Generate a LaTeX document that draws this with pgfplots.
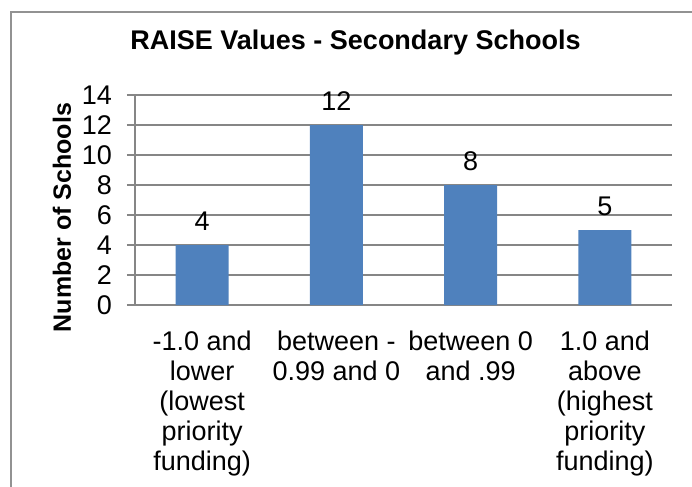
\documentclass[border=0pt]{standalone}
\usepackage{fontspec}
\setmainfont{Liberation Sans}
\usepackage{pgfplots}
\pgfplotsset{compat=1.18}
\definecolor{barblue}{HTML}{4F81BD}
\definecolor{gridgray}{HTML}{868686}
\newcommand{\bodyfont}{\fontsize{27bp}{30bp}\selectfont}
\begin{document}
\begin{tikzpicture}
\begin{axis}[
  name=ax, at={(0bp,0bp)}, anchor=south west,
  width=537bp, height=210bp, scale only axis,
  xmin=-0.5, xmax=3.5, ymin=0, ymax=14,
  ytick={0,2,...,14},
  xtick={0,1,2,3},
  xticklabels={{-1.0 and\\lower\\(lowest\\priority\\funding)},{between -\\0.99 and 0},{between 0\\and .99},{1.0 and\\above\\(highest\\priority\\funding)}},
  axis x line*=bottom, axis y line*=left,
  axis line style={gridgray, line width=1.2bp, -},
  tick align=outside, major tick length=8bp,
  ytick style={draw=gridgray, line width=1.2bp},
  xtick style={draw=none},
  ymajorgrids, grid style={gridgray, line width=1.2bp},
  /pgf/number format/assume math mode=true,
  yticklabel style={font=\bodyfont, inner sep=0pt, anchor=east, xshift=-15bp},
  xticklabel style={font=\bodyfont, align=center, anchor=north, inner sep=0pt, yshift=-17.5bp},
  title={RAISE Values - Secondary Schools},
  title style={font=\bfseries\fontsize{27bp}{30bp}\selectfont, at={(axis description cs:0.4106,1)}, anchor=base, yshift=40bp, inner sep=0pt},
  ylabel={Number of Schools},
  ylabel style={font=\bfseries\fontsize{25bp}{28bp}\selectfont, at={(axis description cs:-0.136,0.4167)}, anchor=center, inner sep=0pt},
  nodes near coords,
  every node near coord/.append style={font=\bodyfont, yshift=11bp},
]
\addplot[ybar, bar width=53bp, fill=barblue, draw=none] coordinates {(0,4) (1,12) (2,8) (3,5)};
\end{axis}
\pgfresetboundingbox
\path[use as bounding box] (-135bp,-182bp) rectangle (557bp,305bp);
\begin{scope}
\clip (-135bp,-182bp) rectangle (557bp,305bp);
\draw[gridgray!90, line width=1.2bp] (-124bp,293bp) rectangle (620bp,-250bp);
\end{scope}
\end{tikzpicture}
\end{document}
